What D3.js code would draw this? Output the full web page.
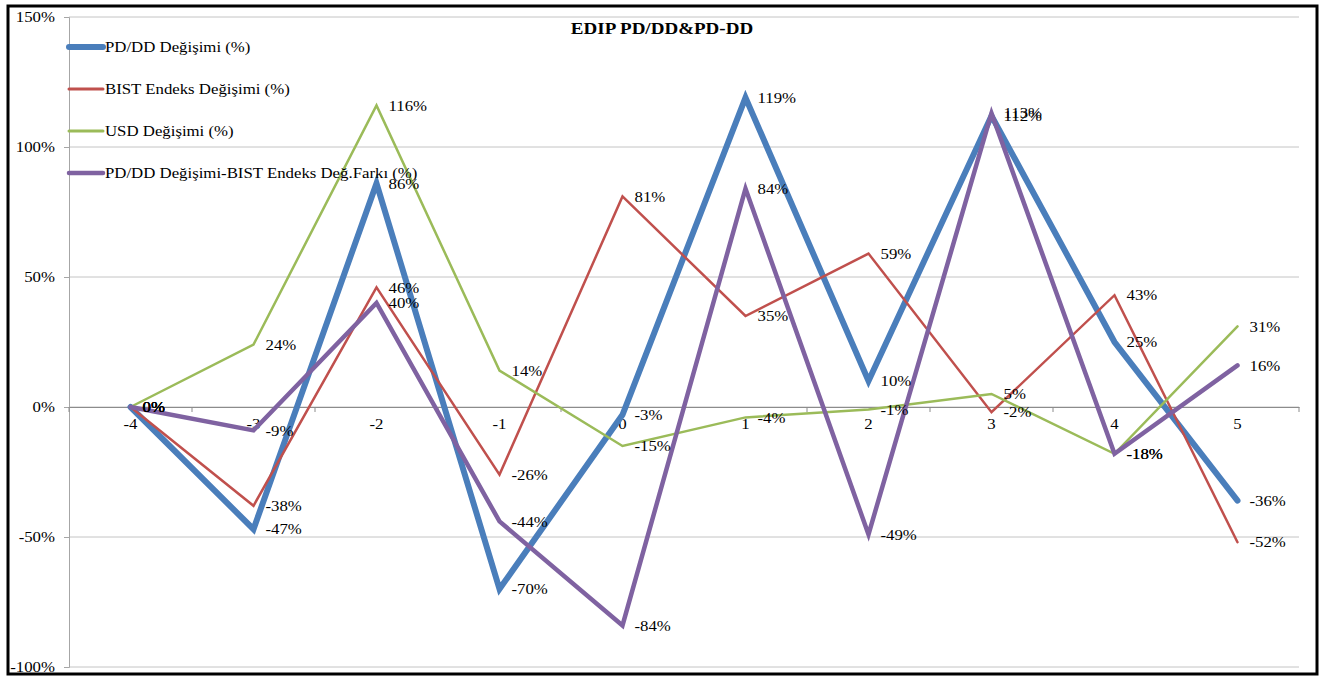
<!DOCTYPE html>
<html>
<head>
<meta charset="utf-8">
<title>EDIP PD/DD&amp;PD-DD</title>
<style>
  body { margin: 0; background: #fff; }
  svg text { font-family: "Liberation Serif", "Times New Roman", "DejaVu Serif", serif !important; }
</style>
</head>
<body>
<div id="chart"></div>
<script src="https://cdn.jsdelivr.net/npm/d3@7"></script>
<script>
// data (values in %)
var periods = ['-4', '-3', '-2', '-1', '0', '1', '2', '3', '4', '5'];
var pdddChange = [0, -47, 86, -70, -3, 119, 10, 112, 25, -36];
var bistChange = [0, -38, 46, -26, 81, 35, 59, -2, 43, -52];
var usdChange = [0, 24, 116, 14, -15, -4, -1, 5, -18, 31];
var diffChange = [0, -9, 40, -44, -84, 84, -49, 113, -18, 16];
var yTicks = [-100, -50, 0, 50, 100, 150];

var seriesNames = [
  'PD/DD Değişimi (%)',
  'BIST Endeks Değişimi (%)',
  'USD Değişimi (%)',
  'PD/DD Değişimi-BIST Endeks Değ.Farkı (%)'
];
var seriesValues = [pdddChange, bistChange, usdChange, diffChange];
var seriesColors = ['#4A7EBB', '#C0504D', '#9BBB59', '#7F62A1'];
var seriesWidths = [6, 2.5, 2.5, 4.5];

var FONT = '"Liberation Serif", "Times New Roman", "DejaVu Serif", serif';
var SX = 1.12; // the original text is a bit wider than plain Times

var width = 1338, height = 677;
var plotLeft = 69, plotRight = 1299, plotTop = 17, plotBottom = 667;

// move x/y into a transform so the text can be widened around its anchor
function stretch(sel) {
  sel.each(function(){
    var t = d3.select(this);
    var tx = +t.attr('x') || 0, ty = +t.attr('y') || 0;
    t.attr('x', 0).attr('y', 0)
      .attr('transform', 'translate(' + tx + ',' + ty + ') scale(' + SX + ',1)');
  });
}

var svg = d3.select('#chart').append('svg')
  .attr('width', width)
  .attr('height', height)
  .attr('font-family', FONT);

svg.append('rect')
  .attr('width', width).attr('height', height)
  .attr('fill', '#fff');

var x = d3.scaleBand().domain(periods).range([plotLeft, plotRight]);
var y = d3.scaleLinear().domain([-100, 150]).range([plotBottom, plotTop]);

// gridlines
svg.selectAll('.grid')
  .data(yTicks)
  .enter()
  .append('line')
  .attr('x1', plotLeft).attr('x2', plotRight)
  .attr('y1', function(d){ return y(d); })
  .attr('y2', function(d){ return y(d); })
  .attr('stroke', '#c4c4c4')
  .attr('stroke-width', 1);

// y axis
var yAxis = svg.append('g')
  .attr('transform', 'translate(' + plotLeft + ',0)')
  .call(d3.axisLeft(y).tickValues(yTicks).tickSize(5).tickFormat(function(d){ return d + '%'; }));
yAxis.attr('font-family', FONT).attr('font-size', 15);
yAxis.select('.domain').attr('stroke', '#a6a6a6');
yAxis.selectAll('.tick line').attr('stroke', '#a6a6a6');
yAxis.selectAll('text')
  .attr('fill', '#000')
  .attr('x', -14)
  .call(stretch);

// x axis sits on the 0% line, labels centred on each category
var xAxis = svg.append('g')
  .attr('transform', 'translate(0,' + y(0) + ')')
  .call(d3.axisBottom(x).tickSize(0).tickPadding(11));
xAxis.attr('font-family', FONT).attr('font-size', 15);
xAxis.select('.domain').attr('stroke', '#8c8c8c');
xAxis.selectAll('text').attr('fill', '#000').call(stretch);

// category boundary tick marks
var bounds = periods.map(function(p){ return x(p); }).concat([plotRight]);
svg.selectAll('.xtick')
  .data(bounds)
  .enter()
  .append('line')
  .attr('x1', function(d){ return d; })
  .attr('x2', function(d){ return d; })
  .attr('y1', y(0))
  .attr('y2', y(0) + 5)
  .attr('stroke', '#8c8c8c');

var line = d3.line()
  .x(function(d, i){ return x(periods[i]) + x.bandwidth() / 2; })
  .y(function(d){ return y(d); });

seriesValues.forEach(function(vals, s){
  svg.append('path')
    .datum(vals)
    .attr('d', line)
    .attr('fill', 'none')
    .attr('stroke', seriesColors[s])
    .attr('stroke-width', seriesWidths[s])
    .attr('stroke-linejoin', 'miter')
    .attr('stroke-linecap', 'round');
});

// data labels to the right of each point
seriesValues.forEach(function(vals, s){
  svg.selectAll('.lab' + s)
    .data(vals)
    .enter()
    .append('text')
    .attr('x', function(d, i){ return x(periods[i]) + x.bandwidth() / 2 + 12; })
    .attr('y', function(d){ return y(d); })
    .attr('dy', '0.35em')
    .attr('font-size', 15)
    .attr('fill', '#000')
    .text(function(d){ return d + '%'; })
    .call(stretch);
});

// legend, inside the plot at top left
var legend = svg.selectAll('.legend')
  .data(seriesNames)
  .enter()
  .append('g')
  .attr('transform', function(d, i){ return 'translate(0,' + (47 + i * 42) + ')'; });

legend.append('line')
  .attr('x1', 69).attr('x2', 103)
  .attr('y1', 0).attr('y2', 0)
  .attr('stroke', function(d, i){ return seriesColors[i]; })
  .attr('stroke-width', function(d, i){ return Math.max(seriesWidths[i], 3); })
  .attr('stroke-linecap', 'round');

legend.append('text')
  .attr('x', 105)
  .attr('y', 0)
  .attr('dy', '0.35em')
  .attr('font-size', 15)
  .attr('fill', '#000')
  .text(function(d){ return d; })
  .call(stretch);

// title
svg.append('text')
  .attr('x', 662)
  .attr('y', 34)
  .attr('text-anchor', 'middle')
  .attr('font-size', 17)
  .attr('font-weight', 'bold')
  .attr('fill', '#000')
  .text('EDIP PD/DD&PD-DD')
  .call(stretch);

// outer frame
svg.append('rect')
  .attr('x', 8).attr('y', 6)
  .attr('width', 1309).attr('height', 668)
  .attr('fill', 'none')
  .attr('stroke', '#000')
  .attr('stroke-width', 3);
</script>
</body>
</html>
